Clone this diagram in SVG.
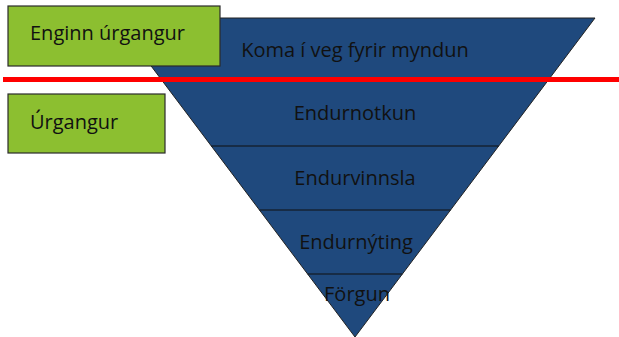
<svg xmlns="http://www.w3.org/2000/svg" width="619" height="337" viewBox="0 0 619 337">
<style>
.t{font-family:"Open Sans","Liberation Sans",sans-serif;font-size:20px;fill:#111}
.box{fill:#8CBF30;stroke:#2b2b2b;stroke-width:1.2}
.sep{stroke:#111;stroke-width:1.2}
</style>
<rect width="619" height="337" fill="#fff"/>
<g id="pyramid">
<polygon points="115,18 595,18 355,337" fill="#1F497D" stroke="#222" stroke-width="1"/>
</g>
<g id="connectors">
<line class="sep" x1="211.3" y1="146" x2="498.7" y2="146"/>
<line class="sep" x1="259.4" y1="210" x2="450.6" y2="210"/>
<line class="sep" x1="307.6" y1="274" x2="402.4" y2="274"/>
</g>
<g id="band1"><text class="t" x="355" y="57" text-anchor="middle">Koma í veg fyrir myndun</text></g>
<g id="band2"><text class="t" x="355" y="120" text-anchor="middle">Endurnotkun</text></g>
<g id="band3"><text class="t" x="355" y="185" text-anchor="middle">Endurvinnsla</text></g>
<g id="band4"><text class="t" x="356" y="249" text-anchor="middle">Endurnýting</text></g>
<g id="band5"><text class="t" x="357" y="301" text-anchor="middle">Förgun</text></g>
<g id="redline"><rect x="3" y="77" width="616" height="5" fill="#FF0000"/></g>
<g id="box1">
<rect class="box" x="8" y="6" width="212" height="60"/>
<text class="t" x="30" y="40">Enginn úrgangur</text>
</g>
<g id="box2">
<rect class="box" x="8" y="94" width="157" height="59"/>
<text class="t" x="30" y="129">Úrgangur</text>
</g>
</svg>
